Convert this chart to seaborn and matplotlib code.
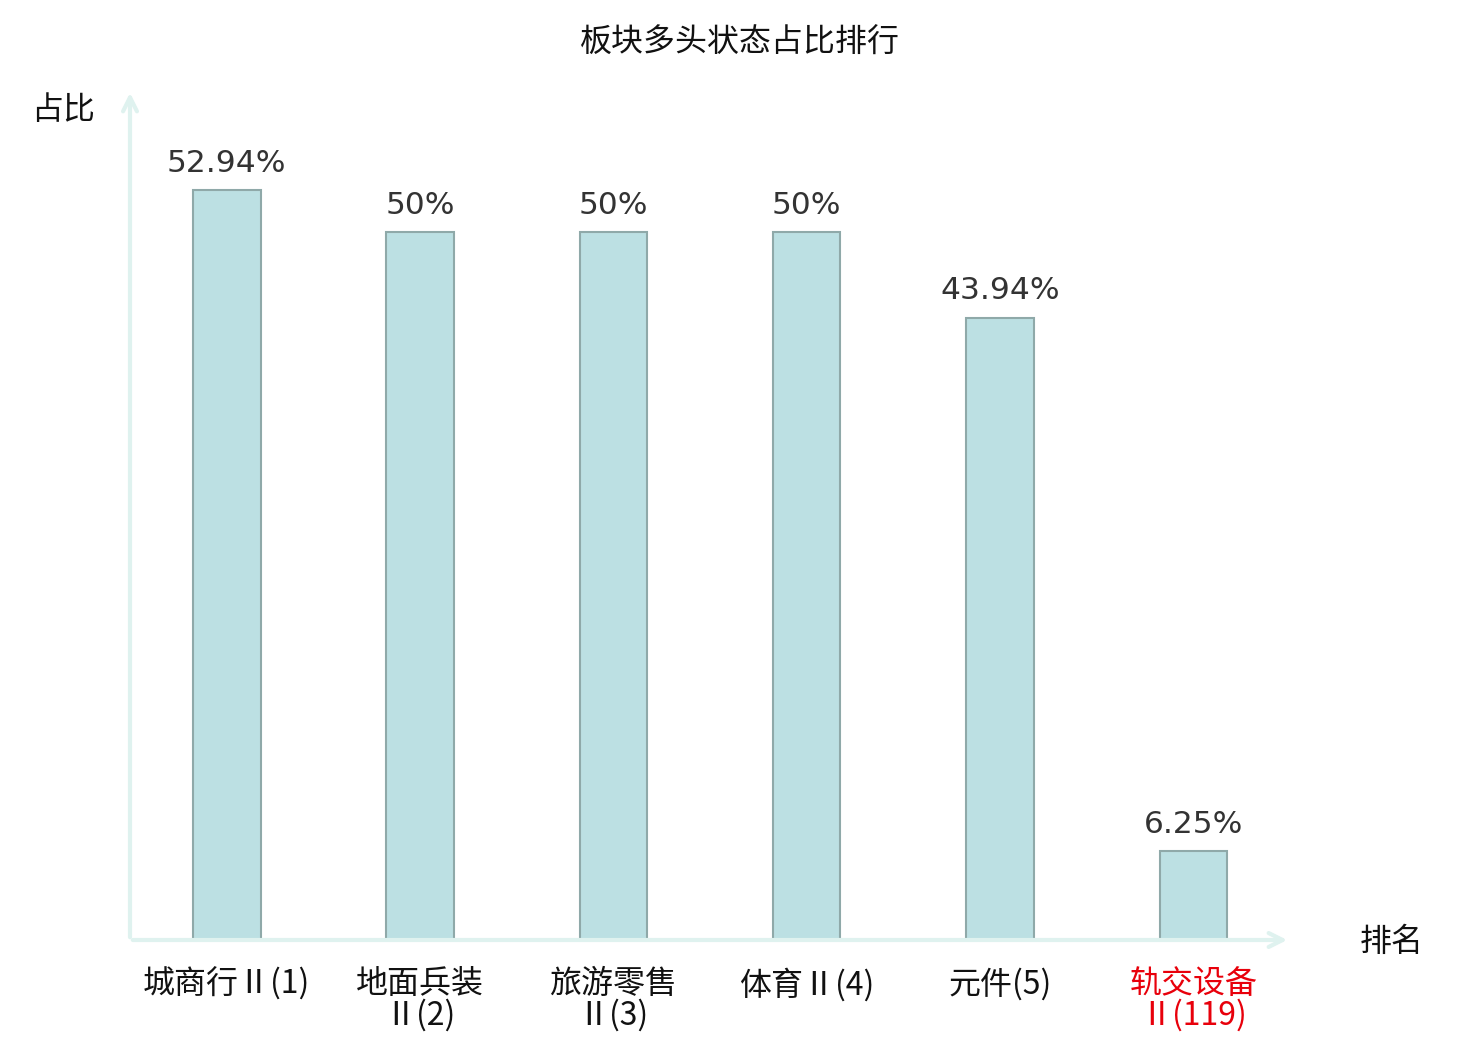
import matplotlib
matplotlib.use("Agg")
import matplotlib.pyplot as plt
import seaborn as sns
import pandas as pd

# chart data
sectors = ["城商行Ⅱ(1)", "地面兵装\nⅡ(2)", "旅游零售\nⅡ(3)", "体育Ⅱ(4)", "元件(5)", "轨交设备\nⅡ(119)"]
ratios = [52.94, 50, 50, 50, 43.94, 6.25]
value_labels = ["52.94%", "50%", "50%", "50%", "43.94%", "6.25%"]
highlight = "轨交设备\nⅡ(119)"

sns.set_style("white")
plt.rcParams['font.family'] = ['Noto Sans CJK SC', 'DejaVu Sans']

df = pd.DataFrame({"sector": sectors, "ratio": ratios})

fig = plt.figure(figsize=(14.8, 10.4), dpi=100)
ax = fig.add_axes([130 / 1480, 100 / 1040, 1160 / 1480, 850 / 1040])

sns.barplot(data=df, x="sector", y="ratio", color="#bce0e3", saturation=1,
            width=0.35, edgecolor="#8fa9a9", linewidth=1.5, ax=ax)

ax.set_xlim(-0.5, 5.5)
ax.set_ylim(0, 60)
for s in ax.spines.values():
    s.set_visible(False)
ax.set_yticks([])
ax.set_xlabel("")
ax.set_ylabel("")
ax.tick_params(axis="x", length=0, pad=20, labelsize=23)
for t in ax.get_xticklabels():
    t.set_linespacing(0.97)
    t.set_color("#e8000b" if t.get_text() == highlight else "#111111")

# value labels on bars
for i, (v, lab) in enumerate(zip(ratios, value_labels)):
    ax.text(i, v + 0.85, lab, ha="center", va="bottom", fontsize=22.5,
            color="#333333", family="DejaVu Sans")

# axes with arrowheads
axis_col = "#dff2ef"
ax.annotate("", xy=(1.0, 0), xytext=(0, 0), xycoords="axes fraction",
            arrowprops=dict(arrowstyle="->,head_length=1.0,head_width=0.5",
                            color=axis_col, lw=3), clip_on=False)
ax.annotate("", xy=(0, 1.0), xytext=(0, 0), xycoords="axes fraction",
            arrowprops=dict(arrowstyle="->,head_length=1.0,head_width=0.5",
                            color=axis_col, lw=3), clip_on=False)

fig.text(1392 / 1480, 1 - 942 / 1040, "排名", ha="center", va="center",
         fontsize=23, color="#111111")
fig.text(63 / 1480, 1 - 110 / 1040, "占比", ha="center", va="center",
         fontsize=23, color="#111111")
fig.text(740 / 1480, 1 - 43 / 1040, "板块多头状态占比排行", ha="center", va="center",
         fontsize=23, color="#111111")

fig.savefig("out.png", dpi=100)
plt.close(fig)
